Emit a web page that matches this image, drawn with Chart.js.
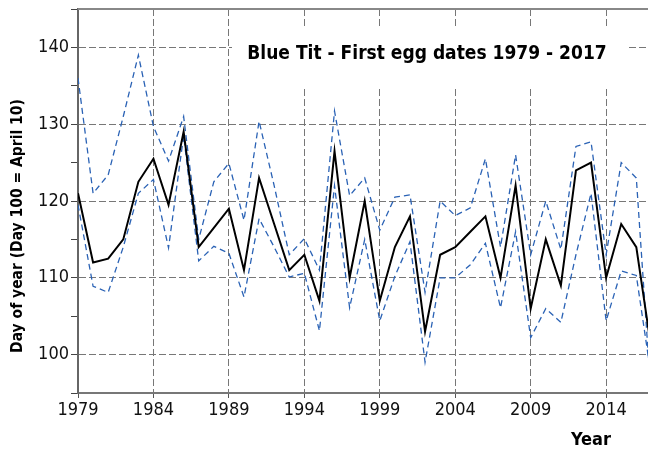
<!DOCTYPE html>
<html>
<head>
<meta charset="utf-8">
<script src="https://cdn.jsdelivr.net/npm/chart.js@4"></script>
<style>
  html, body { margin: 0; padding: 0; background: #fff; overflow: hidden; }
  #wrap { width: 680px; height: 453px; }
</style>
</head>
<body>
<div id="wrap"><canvas id="eggChart" width="680" height="453"></canvas></div>
<script>
// ── Dados ─────────────────────────────────────────────────────────────────────
const years = [1979,1980,1981,1982,1983,1984,1985,1986,1987,1988,1989,1990,1991,1992,1993,1994,1995,1996,1997,1998,
               1999,2000,2001,2002,2003,2004,2005,2006,2007,2008,2009,2010,2011,2012,2013,2014,2015,2016,2017];
const meanDate = [121,112,112.5,115,122.5,125.5,119.5,129,114,116.5,119,111,123,117,111,113,107,126.5,110,120,
                  107,114,118,103,113,114,116,118,110,122,106,115,109,124,125,110,117,114,100.7];
const upperDate = [136,121,123.4,131,139,129.7,125.2,131,115,122.5,124.9,117.5,130.4,122,113,115.1,111,131.7,120.7,123,
                   116.2,120.5,120.8,108.1,120,118.1,119.1,125.5,114,126,113,120,113.7,127.1,127.7,113,125,123,94];
const lowerDate = [119.5,108.9,108.1,114,121,122.8,113.9,128.5,112.2,114.1,113.2,107.5,117.7,114,110.1,110.6,103.1,122,106.1,115,
                   104.4,110.2,114.7,99,110,110,111.7,114.5,106.1,116,102.2,106,104.2,113,121,104.4,110.9,110.3,97];
const xTicks = [1979,1984,1989,1994,1999,2004,2009,2014];
const yTicks = [95,100,105,110,115,120,125,130,135,140,145];

const titulo = "Blue Tit - First egg dates 1979 - 2017";
const FONTE = "'Liberation Sans Narrow', 'DejaVu Sans Condensed', 'Roboto Condensed', sans-serif";

const pts = arr => years.map((y, i) => ({ x: y, y: arr[i] }));

// ── Textos e moldura ──────────────────────────────────────────────────────────
const extras = {
  id: "extras",
  beforeDatasetsDraw(chart) {
    const { ctx, chartArea } = chart;
    ctx.save();
    // caixa branca do título por cima da grade
    ctx.fillStyle = "#fff";
    ctx.fillRect(232, 27, 395, 59);
    ctx.fillStyle = "#000";
    ctx.font = "bold 19px " + FONTE;
    ctx.textAlign = "center";
    ctx.textBaseline = "alphabetic";
    ctx.fillText(titulo, 427, 59);
    // borda superior
    ctx.strokeStyle = "#888";
    ctx.lineWidth = 2;
    ctx.beginPath();
    ctx.moveTo(chartArea.left, chartArea.top);
    ctx.lineTo(chartArea.right, chartArea.top);
    ctx.stroke();
    ctx.restore();
  },
  afterDraw(chart) {
    const { ctx } = chart;
    ctx.save();
    ctx.fillStyle = "#000";
    ctx.font = "bold 18px " + FONTE;
    ctx.textAlign = "center";
    ctx.textBaseline = "middle";
    ctx.fillText("Year", 591, 440);
    ctx.font = "bold 15.5px " + FONTE;
    ctx.translate(18, 226);
    ctx.rotate(-Math.PI / 2);
    ctx.fillText("Day of year (Day 100 = April 10)", 0, 0);
    ctx.restore();
  }
};

// ── Gráfico ───────────────────────────────────────────────────────────────────
new Chart(document.getElementById("eggChart"), {
  type: "line",
  data: {
    datasets: [
      { data: pts(meanDate), borderColor: "#000", borderWidth: 2, pointRadius: 0, tension: 0 },
      { data: pts(upperDate), borderColor: "#2a62b5", borderWidth: 1.3, borderDash: [6, 4], pointRadius: 0, tension: 0 },
      { data: pts(lowerDate), borderColor: "#2a62b5", borderWidth: 1.3, borderDash: [6, 4], pointRadius: 0, tension: 0 }
    ]
  },
  options: {
    responsive: false,
    animation: false,
    layout: { padding: { left: 0, top: 9, right: 28.6, bottom: 0 } },
    plugins: { legend: { display: false }, tooltip: { enabled: false } },
    scales: {
      x: {
        type: "linear",
        min: 1979,
        max: 2017,
        afterBuildTicks: s => { s.ticks = xTicks.map(v => ({ value: v })); },
        afterFit: s => { s.height = 60; },
        ticks: {
          color: "#111",
          font: { family: FONTE, size: 18 },
          padding: 2,
          maxRotation: 0,
          autoSkip: false,
          callback: v => String(v)
        },
        grid: { color: "#777", lineWidth: 1, tickLength: 5, tickColor: "#555" },
        border: { display: true, color: "#777", width: 2, dash: [7, 3] }
      },
      y: {
        min: 95,
        max: 145,
        afterBuildTicks: s => { s.ticks = yTicks.map(v => ({ value: v })); },
        afterFit: s => { s.width = 78; s.paddingTop = 0; s.paddingBottom = 0; },
        ticks: {
          color: "#111",
          font: { family: FONTE, size: 18 },
          padding: 2,
          callback: v => (v % 10 === 0 && v < 145 ? String(v) : "")
        },
        grid: {
          color: c => (c.tick && c.tick.value % 10 === 0 && c.tick.value < 145 ? "#777" : "rgba(0,0,0,0)"),
          lineWidth: 1,
          tickLength: 7,
          tickColor: "#444"
        },
        border: { display: true, color: "#666", width: 2, dash: [7, 3] }
      }
    }
  },
  plugins: [extras]
});
</script>
</body>
</html>
